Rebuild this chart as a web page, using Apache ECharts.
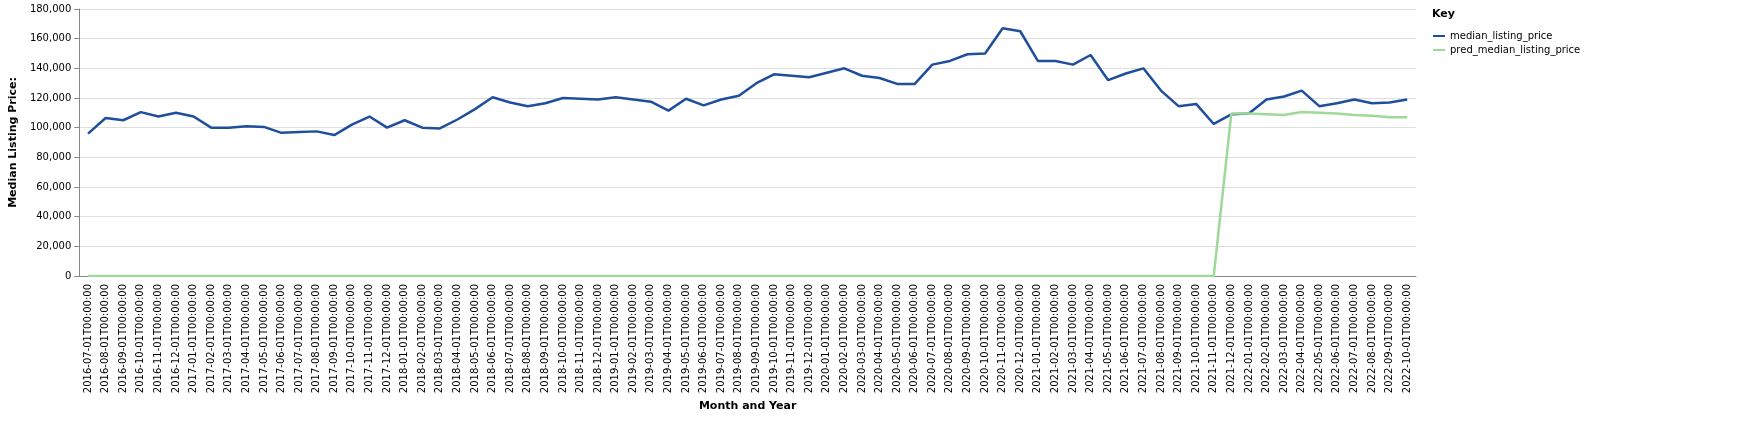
<!DOCTYPE html>
<html><head><meta charset="utf-8">
<script src="https://cdn.jsdelivr.net/npm/echarts@6/dist/echarts.min.js"></script>
<style>html,body{margin:0;padding:0;background:#fff}#container{width:1759px;height:447px}</style>
</head><body><div id="container"></div>
<script>
var months = [];
for (var y = 2016; y <= 2022; y++) {
    for (var m = 1; m <= 12; m++) {
        if ((y == 2016 && m < 7) || (y == 2022 && m > 10)) continue;
        months.push(y + '-' + (m < 10 ? '0' + m : m) + '-01T00:00:00');
    }
}
var medianListingPrice = [
    96000,106500,105000,110500,107500,110000,
    107500,100000,100000,101000,100500,96500,97000,97500,95000,102000,107500,100000,
    105000,100000,99500,105500,112500,120500,117000,114500,116500,120000,119500,119000,
    120500,119000,117500,111500,119500,115000,119000,121500,130000,136000,135000,134000,
    137000,140000,135000,133500,129500,129500,142500,145000,149500,150000,167000,165000,
    145000,145000,142500,149000,132000,136500,140000,125000,114500,116000,102500,109000,
    109500,119000,121000,125000,114500,116500,119000,116500,117000,119000
];
var predMedianListingPrice = [];
for (var i = 0; i < 65; i++) predMedianListingPrice.push(0);
predMedianListingPrice = predMedianListingPrice.concat([
    109500,109500,109000,108500,110500,110000,109500,108500,108000,107000,107000
]);

var myChart = echarts.init(document.getElementById('container'));
var option = {
    animation: false,
    color: ['#1f4e9c', '#9ed99a'],
    textStyle: { fontFamily: 'DejaVu Sans' },
    graphic: [{ type: 'text', left: 1432, top: 9, style: { text: 'Key', font: 'bold 11px DejaVu Sans', fill: '#000' } }],
    legend: {
        orient: 'vertical', left: 1428, top: 26, itemWidth: 12, itemHeight: 2, itemGap: 4,
        icon: 'rect',
        textStyle: { fontSize: 10, color: '#000' },
        data: ['median_listing_price', 'pred_median_listing_price']
    },
    grid: { left: 62, right: 343, top: 9, bottom: 171, containLabel: false },
    xAxis: {
        type: 'category', data: months, boundaryGap: true,
        name: 'Month and Year', nameLocation: 'middle', nameGap: 108,
        nameTextStyle: { fontWeight: 'bold', fontSize: 11, color: '#000' },
        axisLine: { lineStyle: { color: '#888' } },
        axisTick: { alignWithLabel: true, lineStyle: { color: '#888' } },
        axisLabel: { rotate: 90, interval: 0, fontSize: 10, color: '#000' },
        splitLine: { show: false }
    },
    yAxis: {
        type: 'value', min: 0, max: 180000, interval: 20000,
        name: 'Median Listing Price:', nameLocation: 'middle', nameGap: 50,
        nameTextStyle: { fontWeight: 'bold', fontSize: 11, color: '#000' },
        axisLine: { show: true, lineStyle: { color: '#888' } },
        axisTick: { show: true, lineStyle: { color: '#888' } },
        axisLabel: { fontSize: 10, color: '#000', formatter: function (v) { return v.toLocaleString('en-US'); } },
        splitLine: { lineStyle: { color: '#ddd' } }
    },
    series: [
        { name: 'median_listing_price', type: 'line', data: medianListingPrice, showSymbol: false, lineStyle: { width: 2.5 } },
        { name: 'pred_median_listing_price', type: 'line', data: predMedianListingPrice, showSymbol: false, lineStyle: { width: 2.5 } }
    ]
};
myChart.setOption(option, true);
</script>
</body></html>
